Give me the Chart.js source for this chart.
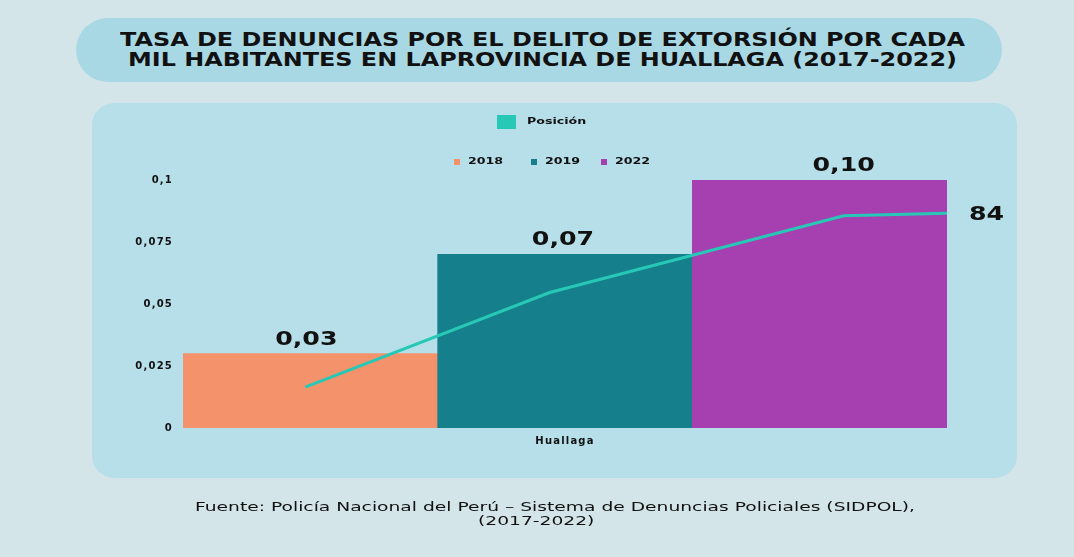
<!DOCTYPE html>
<html>
<head>
<meta charset="utf-8">
<script src="https://cdn.jsdelivr.net/npm/chart.js@4.4.1/dist/chart.umd.min.js"></script>
<style>
  html, body { margin: 0; padding: 0; }
  body { width: 1074px; height: 557px; background: #d4e5e9; position: relative; overflow: hidden; font-family: "DejaVu Sans", sans-serif; }
  #pill { position: absolute; left: 76px; top: 18px; width: 926px; height: 64px; border-radius: 32px; background: #a9d8e5; }
  .tl { position: absolute; white-space: nowrap; font-family: "DejaVu Sans", sans-serif; font-weight: bold; font-size: 19.5px; line-height: 20px; color: #111; transform-origin: 0 0; }
  #panel { position: absolute; left: 92px; top: 103px; width: 925px; height: 375px; border-radius: 22px; background: #b7dfe9; }
  #wrap { position: absolute; left: 0; top: 0; width: 1074px; height: 557px; }
  .fl { position: absolute; white-space: nowrap; font-family: "DejaVu Sans", sans-serif; font-size: 11.5px; line-height: 13px; color: #111; transform-origin: 0 0; }
</style>
</head>
<body>
<div id="pill"></div>
<div class="tl" id="t1">TASA DE DENUNCIAS POR EL DELITO DE EXTORSIÓN POR CADA</div>
<div class="tl" id="t2">MIL HABITANTES EN LAPROVINCIA DE HUALLAGA (2017-2022)</div>
<div id="panel"></div>
<div id="wrap"><canvas id="c" width="1074" height="557"></canvas></div>
<div class="fl" id="f1">Fuente: Policía Nacional del Perú – Sistema de Denuncias Policiales (SIDPOL),</div>
<div class="fl" id="f2">(2017-2022)</div>
<script>
// ---- data ----
const region = 'Huallaga';
const years = ['2018', '2019', '2022'];
const rateValues = [0.03, 0.07, 0.10];
const rateLabels = ['0,03', '0,07', '0,10'];
const positionLabel = 'Posición';
const positionX = [0.16, 0.48, 0.865, 1.0];
const positionValues = [16, 53, 83, 84];
const yTicks = [0, 0.025, 0.05, 0.075, 0.1];

const barColors = ['#f4936b', '#157f8b', '#a63fb0'];
const lineColor = '#27c8b6';
const STRETCH = 1.33;
const labelShift = [-4, -2, 24];

// the reference text is horizontally stretched: fit HTML lines to their widths
function fitLine(id, left, width, top) {
  const el = document.getElementById(id);
  const w = el.getBoundingClientRect().width;
  el.style.left = left + 'px';
  el.style.top = top + 'px';
  el.style.transform = 'scaleX(' + (width / w) + ')';
  return width / w;
}
fitLine('t1', 120, 845, 30);
fitLine('t2', 128, 829, 50);
const fs = fitLine('f1', 195, 720, 501);
(function () {
  const el = document.getElementById('f2');
  const w = el.getBoundingClientRect().width * fs;
  el.style.left = (536 - w / 2) + 'px';
  el.style.top = '515px';
  el.style.transform = 'scaleX(' + fs + ')';
})();

const datasets = [{
  type: 'bar',
  label: region,
  data: rateValues,
  backgroundColor: barColors,
  borderWidth: 0,
  categoryPercentage: 1.0,
  barPercentage: 1.0,
  grouped: false,
  xAxisID: 'x',
  yAxisID: 'y',
  order: 2
}, {
  type: 'line',
  label: positionLabel,
  data: positionX.map((x, i) => ({ x: x, y: positionValues[i] })),
  borderColor: lineColor,
  backgroundColor: lineColor,
  borderWidth: 3,
  pointRadius: 0,
  tension: 0,
  xAxisID: 'xl',
  yAxisID: 'y2',
  order: 1,
  clip: false
}];

function stretchedText(ctx, text, x, y, align) {
  ctx.save();
  ctx.letterSpacing = '0px';
  const w = ctx.measureText(text).width * STRETCH;
  let left = x;
  if (align === 'center') left = x - w / 2;
  else if (align === 'right') left = x - w;
  ctx.translate(left, y);
  ctx.scale(STRETCH, 1);
  ctx.textAlign = 'left';
  ctx.fillText(text, 0, 0);
  ctx.restore();
}

const spacingPlugin = {
  id: 'spacing',
  beforeDraw(chart) { chart.ctx.letterSpacing = '1.2px'; }
};

const legendPlugin = {
  id: 'customLegend',
  afterDraw(chart) {
    const ctx = chart.ctx;
    const ds = chart.data.datasets;
    ctx.save();
    const line = ds[1];
    ctx.fillStyle = line.borderColor;
    ctx.fillRect(497, 115, 19, 14);
    ctx.fillStyle = '#111';
    ctx.font = 'bold 9.5px "DejaVu Sans"';
    ctx.textBaseline = 'middle';
    stretchedText(ctx, line.label, 527, 122, 'left');
    const bar = ds[0];
    const xs = [454, 531, 601];
    chart.data.labels.forEach((lab, i) => {
      ctx.fillStyle = bar.backgroundColor[i];
      ctx.fillRect(xs[i], 159, 6, 6);
      ctx.fillStyle = '#111';
      stretchedText(ctx, lab, xs[i] + 14, 162, 'left');
    });
    ctx.restore();
  }
};

const labelPlugin = {
  id: 'valueLabels',
  afterDatasetsDraw(chart) {
    const ctx = chart.ctx;
    ctx.save();
    ctx.fillStyle = '#111';
    ctx.font = 'bold 19px "DejaVu Sans"';
    ctx.textBaseline = 'alphabetic';
    const bm = chart.getDatasetMeta(0);
    bm.data.forEach((el, i) => {
      stretchedText(ctx, rateLabels[i], el.x + labelShift[i], el.y - 9, 'center');
    });
    const lm = chart.getDatasetMeta(1);
    const d = chart.data.datasets[1];
    const last = lm.data[lm.data.length - 1];
    stretchedText(ctx, String(d.data[d.data.length - 1].y), last.x + 22, last.y + 7, 'left');
    ctx.restore();
  }
};

new Chart(document.getElementById('c'), {
  data: { labels: years, datasets: datasets },
  options: {
    responsive: false,
    animation: false,
    layout: { padding: { left: 0, right: 127, top: 180, bottom: 99 } },
    plugins: { legend: { display: false }, tooltip: { enabled: false }, title: { display: false } },
    scales: {
      x: {
        type: 'category',
        offset: true,
        grid: { display: false },
        border: { display: false },
        ticks: { display: false },
        title: {
          display: true,
          text: region,
          color: '#111',
          font: { family: 'DejaVu Sans', weight: 'bold', size: 10 },
          padding: { top: 2, bottom: 11 }
        },
        afterFit(s) { s.height = 30; }
      },
      xl: { type: 'linear', display: false, min: 0, max: 1 },
      y: {
        min: 0, max: 0.1,
        grid: { display: false },
        border: { display: false },
        afterBuildTicks(s) { s.ticks = yTicks.map(v => ({ value: v })); },
        ticks: {
          color: '#111',
          padding: 2,
          font: { family: 'DejaVu Sans', weight: 'bold', size: 10 },
          callback: v => String(v).replace('.', ',')
        },
        afterFit(s) { s.width = 183; }
      },
      y2: { type: 'linear', display: false, min: 0, max: 97, position: 'right' }
    }
  },
  plugins: [spacingPlugin, legendPlugin, labelPlugin]
});
</script>
</body>
</html>
